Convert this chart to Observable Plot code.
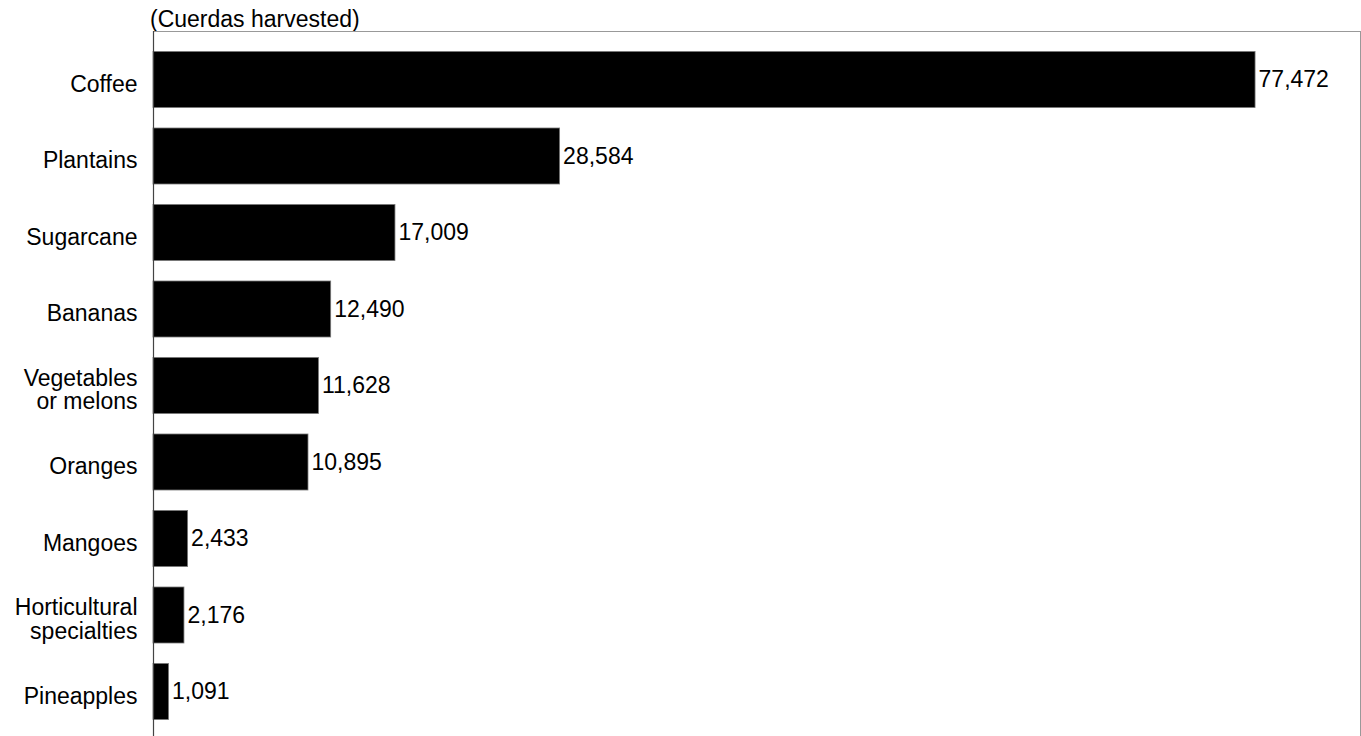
<!DOCTYPE html>
<html>
<head>
<meta charset="utf-8">
<script src="https://cdn.jsdelivr.net/npm/d3@7"></script>
<script src="https://cdn.jsdelivr.net/npm/@observablehq/plot@0.6"></script>
<style>
  html, body { margin: 0; padding: 0; background: #fff; overflow: hidden; }
  #title {
    height: 30px; box-sizing: border-box; padding-top: 7.5px; padding-left: 150px;
    font-family: "Liberation Sans", Arial, sans-serif; font-size: 23px; line-height: 23px; color: #000;
  }
</style>
</head>
<body>
<div id="title">(Cuerdas harvested)</div>
<div id="chart"></div>
<script>
const crops = ["Coffee", "Plantains", "Sugarcane", "Bananas", "Vegetables\nor melons", "Oranges", "Mangoes", "Horticultural\nspecialties", "Pineapples"];
const cuerdas = [77472, 28584, 17009, 12490, 11628, 10895, 2433, 2176, 1091];

const data = crops.map((c, i) => ({crop: c, value: cuerdas[i]}));
const fmt = d3.format(",");

const chart = Plot.plot({
  width: 1361,
  height: 710,
  marginTop: 1,
  marginBottom: 0,
  marginLeft: 153,
  marginRight: 1,
  style: {fontFamily: "Liberation Sans, Arial, sans-serif", fontSize: "23px", color: "#000", background: "#fff", display: "block"},
  x: {domain: [0, 84850], axis: null},
  y: {domain: crops, padding: 0.268, round: false, label: null},
  marks: [
    Plot.frame({stroke: "#999"}),
    Plot.barX(data, {x: "value", y: "crop", fill: "#000", stroke: "#777", strokeWidth: 0.8}),
    Plot.text(data, {x: "value", y: "crop", text: d => fmt(d.value), textAnchor: "start", dx: 3, fill: "#000", fontSize: 23}),
    Plot.ruleX([0], {stroke: "#444", strokeWidth: 1.2}),
    Plot.axisY({tickSize: 0, tickPadding: 16, dy: 4, label: null, fontSize: 23, lineHeight: 1.02})
  ]
});
document.getElementById("chart").appendChild(chart);
</script>
</body>
</html>
